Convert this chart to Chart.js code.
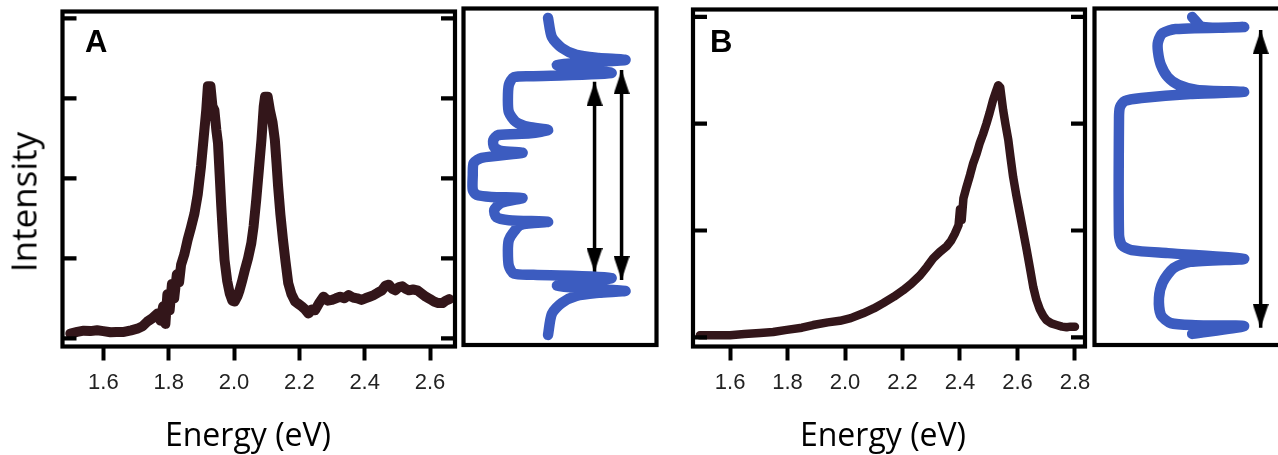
<!DOCTYPE html>
<html>
<head>
<meta charset="utf-8">
<script src="https://cdn.jsdelivr.net/npm/chart.js@4.4.0/dist/chart.umd.min.js"></script>
<style>
  html, body { margin: 0; padding: 0; background: #fff; overflow: hidden; }
  body { width: 1278px; height: 455px; position: relative; }
  .panel { position: absolute; top: 0; }
  .title { position: absolute; font-family: 'Open Sans', sans-serif; color: #000; line-height: 1; white-space: nowrap; }
  .letter { position: absolute; font-family: 'Liberation Sans', Arial, sans-serif; font-weight: bold; font-size: 31px; line-height: 1; color: #000; }
</style>
</head>
<body>
<div class="panel" style="left:40px;width:430px;height:420px"><canvas id="chart-a"></canvas></div>
<div class="panel" style="left:455px;width:210px;height:355px"><canvas id="side-a"></canvas></div>
<div class="panel" style="left:670px;width:430px;height:420px"><canvas id="chart-b"></canvas></div>
<div class="panel" style="left:1086px;width:210px;height:355px"><canvas id="side-b"></canvas></div>

<div class="letter" style="left:85px;top:26px">A</div>
<div class="letter" style="left:710px;top:26px">B</div>
<div class="title" style="left:23px;top:202px;font-size:35px;transform:translate(-50%,-50%) rotate(-90deg)">Intensity</div>
<div class="title" style="left:248px;top:418px;font-size:32px;transform:translateX(-50%)">Energy (eV)</div>
<div class="title" style="left:883px;top:418px;font-size:32px;transform:translateX(-50%)">Energy (eV)</div>

<script>
// Panel A spectrum (two peaks)
const energyA = [1.499, 1.520, 1.540, 1.560, 1.581, 1.600, 1.622, 1.640, 1.663, 1.685,
  1.704, 1.720, 1.735, 1.750, 1.766, 1.775, 1.783, 1.790, 1.796, 1.803,
  1.810, 1.817, 1.825, 1.832, 1.838, 1.848, 1.858, 1.868, 1.879, 1.889,
  1.899, 1.907, 1.915, 1.920, 1.928, 1.934, 1.940, 1.946, 1.951, 1.956,
  1.961, 1.966, 1.971, 1.979, 1.987, 1.995, 2.002, 2.010, 2.017, 2.025,
  2.033, 2.043, 2.053, 2.060, 2.068, 2.076, 2.084, 2.091, 2.095, 2.103,
  2.110, 2.118, 2.125, 2.130, 2.135, 2.142, 2.150, 2.158, 2.166, 2.176,
  2.187, 2.197, 2.207, 2.218, 2.228, 2.238, 2.248, 2.262, 2.274, 2.287,
  2.300, 2.312, 2.325, 2.338, 2.351, 2.364, 2.377, 2.390, 2.402, 2.415,
  2.428, 2.440, 2.453, 2.464, 2.474, 2.484, 2.494, 2.505, 2.515, 2.525,
  2.535, 2.548, 2.561, 2.574, 2.587, 2.600, 2.612, 2.625, 2.638, 2.648, 2.659];
const intensityA = [0.06, 0.08, 0.095, 0.09, 0.10, 0.09, 0.075, 0.08, 0.08, 0.10,
  0.12, 0.15, 0.21, 0.25, 0.31, 0.22, 0.40, 0.18, 0.55, 0.35,
  0.68, 0.50, 0.80, 0.70, 0.92, 1.05, 1.23, 1.38, 1.56, 1.80,
  2.15, 2.50, 2.85, 3.15, 3.15, 2.90, 2.85, 2.60, 2.44, 2.05,
  1.65, 1.30, 0.98, 0.72, 0.56, 0.47, 0.46, 0.52, 0.60, 0.72,
  0.85, 1.00, 1.19, 1.40, 1.73, 2.10, 2.48, 2.90, 3.02, 3.02,
  2.85, 2.70, 2.48, 2.20, 1.90, 1.55, 1.23, 0.95, 0.69, 0.55,
  0.46, 0.43, 0.40, 0.36, 0.31, 0.36, 0.35, 0.45, 0.52, 0.47,
  0.48, 0.50, 0.52, 0.50, 0.54, 0.51, 0.50, 0.48, 0.50, 0.52,
  0.54, 0.57, 0.60, 0.66, 0.67, 0.62, 0.60, 0.64, 0.65, 0.62,
  0.60, 0.61, 0.60, 0.56, 0.52, 0.49, 0.46, 0.44, 0.44, 0.47, 0.49];

// Panel B spectrum (single asymmetric peak)
const energyB = [1.495, 1.550, 1.600, 1.650, 1.704, 1.750, 1.797, 1.850, 1.889, 1.940,
  1.982, 2.020, 2.063, 2.100, 2.133, 2.170, 2.202, 2.230, 2.261, 2.285,
  2.307, 2.330, 2.353, 2.368, 2.382, 2.395, 2.400, 2.406, 2.412, 2.423,
  2.435, 2.446, 2.458, 2.469, 2.480, 2.492, 2.503, 2.515, 2.525, 2.533,
  2.540, 2.550, 2.558, 2.568, 2.576, 2.585, 2.596, 2.608, 2.620, 2.632,
  2.644, 2.655, 2.666, 2.678, 2.690, 2.701, 2.718, 2.736, 2.755, 2.771, 2.785, 2.800];
const intensityB = [0.02, 0.02, 0.02, 0.03, 0.04, 0.05, 0.07, 0.09, 0.115, 0.14,
  0.155, 0.18, 0.225, 0.27, 0.32, 0.38, 0.44, 0.50, 0.58, 0.66,
  0.74, 0.80, 0.85, 0.90, 0.97, 1.05, 1.20, 1.10, 1.30, 1.41,
  1.52, 1.63, 1.72, 1.82, 1.90, 2.00, 2.10, 2.22, 2.30, 2.36,
  2.34, 2.13, 2.00, 1.85, 1.68, 1.50, 1.33, 1.16, 0.99, 0.82,
  0.64, 0.47, 0.35, 0.26, 0.20, 0.16, 0.13, 0.115, 0.10, 0.094, 0.10, 0.10];

// Tick values
const xTicksA = [1.6, 1.8, 2.0, 2.2, 2.4, 2.6];
const xTicksB = [1.6, 1.8, 2.0, 2.2, 2.4, 2.6, 2.8];
const yTicksA = [0, 1, 2, 3, 4];
const yTicksB = [0, 1, 2, 3];

// Side diagrams (blue level curves), unit box 0..100
const sideAX = [43.8, 45.8, 50.9, 58.5, 70.1, 83.8, 48.4, 76.7, 36.2, 26.1,
  23.5, 23.0, 23.5, 27.1, 33.7, 43.8, 34.7, 18.0, 15.4, 15.9,
  19.5, 30.6, 9.4, 5.3, 4.8, 4.8, 6.8, 14.4, 30.6, 19.5,
  15.9, 17.0, 23.5, 43.8, 29.6, 25.6, 23.5, 23.0, 23.5, 26.1,
  36.2, 76.7, 48.4, 83.8, 70.1, 58.5, 50.9, 45.8, 43.8];
const sideAY = [97.2, 91.5, 88.3, 86.2, 85.3, 84.7, 83.2, 80.8, 79.9, 79.6,
  77.3, 72.8, 69.2, 66.3, 64.8, 63.9, 62.9, 62.4, 60.9, 58.8,
  57.7, 57.1, 55.6, 54.1, 50.5, 46.1, 44.6, 44.0, 43.7, 42.2,
  40.1, 38.0, 37.1, 36.6, 35.7, 33.3, 31.2, 28.0, 23.5, 21.2,
  20.9, 19.9, 17.6, 16.1, 15.5, 14.6, 12.5, 9.3, 3.0];
const sideBX = [50.6, 56.0, 77.5, 42.0, 35.4, 32.9, 32.9, 34.4, 38.0, 43.5,
  53.2, 77.5, 49.6, 24.3, 15.7, 13.2, 12.7, 12.7, 14.2, 19.2,
  38.0, 77.5, 49.6, 41.0, 35.4, 33.4, 34.4, 39.5, 52.2, 77.5, 50.6];
const sideBY = [97.5, 94.5, 94.5, 93.9, 92.7, 90.0, 87.1, 83.2, 79.6, 77.3,
  75.8, 75.2, 74.6, 73.4, 72.5, 70.7, 67.5, 32.7, 29.7, 28.2,
  27.3, 25.6, 24.7, 22.9, 18.7, 14.0, 8.9, 6.5, 5.9, 5.6, 3.3];

// Double arrows: [x, yBottom, yTop]
const arrowsA = [[67.9, 21.7, 78.2], [81.9, 19.3, 81.7]];
const arrowsB = [[86.1, 5.1, 93.6]];

const traceColor = '#33161a';
const blue = '#3c5cc0';

function toPoints(xs, ys) {
  return xs.map((x, i) => ({ x, y: ys[i] }));
}

// Frame around plot area + inward y ticks on both sides
const framePlugin = {
  id: 'frame',
  afterDatasetsDraw(chart, args, opts) {
    const ctx = chart.ctx;
    const a = chart.chartArea;
    ctx.save();
    ctx.strokeStyle = '#000';
    ctx.lineWidth = opts.width;
    ctx.strokeRect(a.left, a.top, a.right - a.left, a.bottom - a.top);
    (opts.yTicks || []).forEach(v => {
      const y = chart.scales.y.getPixelForValue(v);
      ctx.beginPath();
      ctx.moveTo(a.left, y);
      ctx.lineTo(a.left + opts.tickLen, y);
      ctx.moveTo(a.right, y);
      ctx.lineTo(a.right - opts.tickLen, y);
      ctx.stroke();
    });
    ctx.restore();
  }
};

// Arrow head image, tip at the centre of the canvas
function makeHead(w, h) {
  const c = document.createElement('canvas');
  c.width = w;
  c.height = h * 2;
  const g = c.getContext('2d');
  g.fillStyle = '#000';
  g.beginPath();
  g.moveTo(w / 2, h);
  g.lineTo(w, h * 2);
  g.lineTo(0, h * 2);
  g.closePath();
  g.fill();
  return c;
}
const head = makeHead(16, 24);

function spectrumChart(id, xs, ys, xTicks, yTicks, xMin, xMax, yMin, yMax, pad, lineW) {
  return new Chart(document.getElementById(id), {
    type: 'scatter',
    data: {
      datasets: [{
        data: toPoints(xs, ys),
        showLine: true,
        borderColor: traceColor,
        borderWidth: lineW,
        borderJoinStyle: 'round',
        borderCapStyle: 'round',
        pointRadius: 0,
        tension: 0
      }]
    },
    options: {
      responsive: true,
      maintainAspectRatio: false,
      animation: false,
      layout: { padding: pad },
      plugins: {
        legend: { display: false },
        tooltip: { enabled: false },
        frame: { yTicks, tickLen: 14, width: 4.2 }
      },
      scales: {
        x: {
          type: 'linear',
          min: xMin,
          max: xMax,
          afterBuildTicks: axis => { axis.ticks = xTicks.map(v => ({ value: v })); },
          afterFit: s => { s.height = 73.5; },
          grid: { display: true, drawOnChartArea: false, drawTicks: true, tickLength: 14, tickWidth: 4, tickColor: '#000' },
          border: { display: false },
          ticks: {
            padding: 9,
            color: '#222',
            font: { family: "'Liberation Sans', Arial, sans-serif", size: 22 },
            callback: v => Number(v).toFixed(1)
          }
        },
        y: { display: false, min: yMin, max: yMax }
      }
    },
    plugins: [framePlugin]
  });
}

function sideChart(id, xs, ys, arrows, pad) {
  const datasets = [{
    data: toPoints(xs, ys),
    showLine: true,
    borderColor: blue,
    borderWidth: 10.5,
    borderJoinStyle: 'round',
    borderCapStyle: 'round',
    pointRadius: 0,
    tension: 0.25
  }];
  arrows.forEach(a => {
    datasets.push({
      data: [{ x: a[0], y: a[1] }, { x: a[0], y: a[2] }],
      showLine: true,
      borderColor: '#000',
      borderWidth: 3.5,
      pointStyle: head,
      pointRadius: 5,
      pointRotation: [180, 0]
    });
  });
  return new Chart(document.getElementById(id), {
    type: 'scatter',
    data: { datasets },
    options: {
      responsive: true,
      maintainAspectRatio: false,
      animation: false,
      layout: { padding: pad },
      plugins: {
        legend: { display: false },
        tooltip: { enabled: false },
        frame: { yTicks: [], tickLen: 0, width: 4.2 }
      },
      scales: {
        x: { display: false, min: 0, max: 100 },
        y: { display: false, min: 0, max: 100 }
      }
    },
    plugins: [framePlugin]
  });
}

spectrumChart('chart-a', energyA, intensityA, xTicksA, yTicksA, 1.475, 2.6765, -0.1025, 4.085,
  { left: 22.5, right: 15, top: 11.5, bottom: 0 }, 10);
spectrumChart('chart-b', energyB, intensityB, xTicksB, yTicksB, 1.471, 2.835, -0.086, 3.069,
  { left: 23, right: 15, top: 9.5, bottom: 0 }, 8.5);
sideChart('side-a', sideAX, sideAY, arrowsA, { left: 6.5, right: 6, top: 8.5, bottom: 10 });
sideChart('side-b', sideBX, sideBY, arrowsB, { left: 6, right: 6.5, top: 8.5, bottom: 10 });
</script>
</body>
</html>
